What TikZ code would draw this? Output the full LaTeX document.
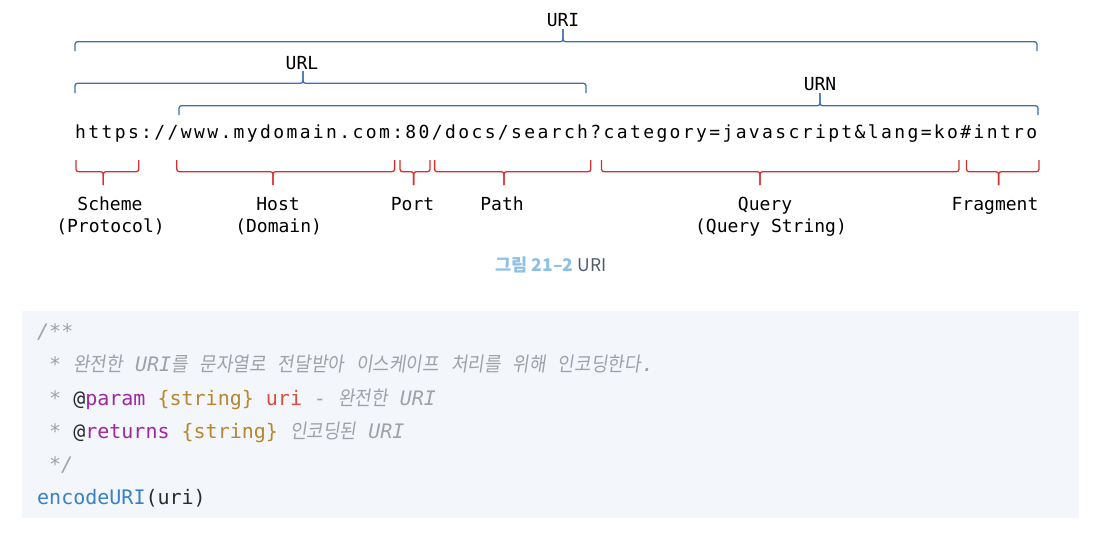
\documentclass[tikz,border=0pt]{standalone}
\usepackage{fontspec}
\setmonofont{DejaVu Sans Mono}
\newfontfamily\urlfont{DejaVu Sans Mono}[LetterSpace=13.2]
\newfontfamily\krfont{Noto Sans CJK KR}
\newfontfamily\kritfont{Noto Sans CJK KR}[FakeSlant=0.15,FakeStretch=0.9]
\definecolor{bbl}{HTML}{3E6FB2}
\definecolor{rbr}{HTML}{D6302E}
\definecolor{codebg}{HTML}{F3F7FC}
\definecolor{cgray}{HTML}{A0A1A7}
\definecolor{cfg}{HTML}{2B2B2B}
\definecolor{cpurple}{HTML}{A0279E}
\definecolor{cgold}{HTML}{B8862E}
\definecolor{cred}{HTML}{DE4B3F}
\definecolor{cblue}{HTML}{3A80C4}
\definecolor{capblue}{HTML}{8EC0E6}
\definecolor{capgray}{HTML}{4E5B68}
\newcommand\kr[1]{{\kritfont #1}}
\newcommand\cm[1]{{\color{cgray}\itshape #1}}
\tikzset{
  bbrace/.style={draw=bbl, line width=1.3pt, rounded corners=2.5pt},
  rbrace/.style={draw=rbr, line width=1.3pt, rounded corners=2.5pt},
  toplbl/.style={anchor=base, inner sep=0pt, font=\ttfamily\fontsize{18}{22}\selectfont, text=black},
  lbl/.style={anchor=base, inner sep=0pt, font=\ttfamily\fontsize{18}{22}\selectfont, text=black},
  codeline/.style={anchor=base west, inner sep=0pt, font=\ttfamily\fontsize{20}{24}\selectfont, text=cfg},
}
% style, x1, x2, xm, yline, ytip, ytick
\newcommand\mybrace[7]{%
  \draw[#1] (#2,#6) -- (#2,#5) -- (#4,#5) -- (#4,#7);
  \draw[#1] (#3,#6) -- (#3,#5) -- (#4,#5) -- (#4,#7);
}
\begin{document}
\begin{tikzpicture}[x=1pt,y=-1pt]
\useasboundingbox (0,0) rectangle (1114,536);

% top (blue) braces
\node[toplbl] (uri) at (563,26) {URI};
\mybrace{bbrace}{75}{1037}{563}{41.7}{51}{29}
\node[toplbl] (urllbl) at (302,69.5) {URL};
\mybrace{bbrace}{75}{586}{303}{83.3}{93}{71}
\node[toplbl] (urn) at (820,90.5) {URN};
\mybrace{bbrace}{179}{1038}{820}{105.7}{115}{93}

% URL string
\node[anchor=base west, inner sep=0pt, font=\urlfont\fontsize{18}{22}\selectfont] (url) at (75,138)
  {https://www.mydomain.com:80/docs/search?category=javascript\&lang=ko\#intro};

% lower (red) braces
\mybrace{rbrace}{76}{138.7}{103.3}{171.7}{160}{185}
\mybrace{rbrace}{176.8}{394.6}{273}{171.7}{160}{185}
\mybrace{rbrace}{400}{430}{413.6}{171.7}{160}{185}
\mybrace{rbrace}{434.6}{590.8}{504}{171.7}{160}{185}
\mybrace{rbrace}{601.5}{959}{760}{171.7}{160}{185}
\mybrace{rbrace}{966.5}{1039}{998.6}{171.7}{160}{185}

\node[lbl] (scheme) at (110,210) {Scheme};
\node[lbl] (scheme2) at (110.5,232) {(Protocol)};
\node[lbl] (host) at (278,210) {Host};
\node[lbl] (host2) at (278.6,232) {(Domain)};
\node[lbl] (port) at (412.5,210) {Port};
\node[lbl] (path) at (502,210) {Path};
\node[lbl] (query) at (765,210) {Query};
\node[lbl] (query2) at (771,232) {(Query String)};
\node[lbl] (frag) at (995,210) {Fragment};

% caption
\node[inner sep=0pt, font=\krfont\fontsize{17.5}{20}\selectfont] (cap) at (551,265)
  {{\bfseries\color{capblue}그림 21–2} {\color{capgray}URI}};

% code block
\fill[codebg] (22,311) rectangle (1079,518);
\node[codeline] (c1) at (37,338) {\cm{/**}};
\node[codeline] (c2) at (49,371) {\cm{* \kr{완전한} URI\kr{를} \kr{문자열로} \kr{전달받아} \kr{이스케이프} \kr{처리를} \kr{위해} \kr{인코딩한다}\kern1pt.}};
\node[codeline] (c3) at (49,405) {\cm{*} @{\color{cpurple}param} {\color{cgold}\{string\}} {\color{cred}uri} \cm{- \kr{완전한} URI}};
\node[codeline] (c4) at (49,438) {\cm{*} @{\color{cpurple}returns} {\color{cgold}\{string\}} \cm{\kr{인코딩된} URI}};
\node[codeline] (c5) at (49,471) {\cm{*/}};
\node[codeline] (c6) at (37,504) {{\color{cblue}encodeURI}(uri)};
\end{tikzpicture}
\end{document}
